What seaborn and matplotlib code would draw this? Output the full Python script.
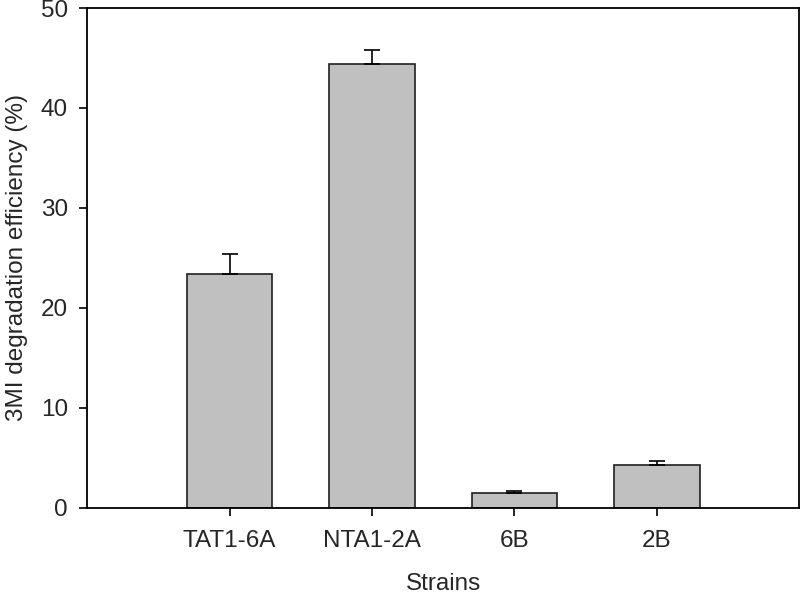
import matplotlib
matplotlib.use("Agg")
import matplotlib.pyplot as plt
import seaborn as sns
import numpy as np
import pandas as pd

# Data
strains = ["TAT1-6A", "NTA1-2A", "6B", "2B"]
efficiency = [23.4, 44.4, 1.5, 4.3]
error_up = [2.0, 1.4, 0.15, 0.4]

sns.set_style("white")
plt.rcParams["font.family"] = ["Liberation Sans", "DejaVu Sans"]
plt.rcParams["font.size"] = 17.5

df = pd.DataFrame({"Strains": strains, "Efficiency": efficiency})

fig = plt.figure(figsize=(8, 5.94), dpi=100)
ax = fig.add_axes([0.109, 0.145, 0.89, 0.8415])

sns.barplot(
    data=df,
    x="Strains",
    y="Efficiency",
    color="#c0c0c0",
    saturation=1,
    width=0.6,
    edgecolor="#202020",
    linewidth=1.2,
    errorbar=None,
    ax=ax,
)

# upper error bars only
x = np.arange(len(strains))
ax.errorbar(
    x,
    efficiency,
    yerr=[np.zeros(len(strains)), error_up],
    fmt="none",
    ecolor="black",
    elinewidth=1.2,
    capsize=5.5,
    capthick=1.2,
)

ax.set_xlim(-1, 4)
ax.set_ylim(0, 50)
ax.set_yticks([0, 10, 20, 30, 40, 50])

for side in ["left", "right", "top", "bottom"]:
    ax.spines[side].set_visible(True)
    ax.spines[side].set_color("black")
    ax.spines[side].set_linewidth(1.3)

ax.tick_params(axis="both", direction="out", length=6, width=1.2, color="black",
               labelsize=17.5)
ax.tick_params(axis="y", pad=8, left=True)
ax.tick_params(axis="x", pad=10, bottom=True)

ax.set_xlabel("Strains", fontsize=17.5, labelpad=15)
ax.set_ylabel("3MI degradation efficiency (%)", fontsize=17.5, labelpad=9)

fig.savefig("out.png", dpi=100)
